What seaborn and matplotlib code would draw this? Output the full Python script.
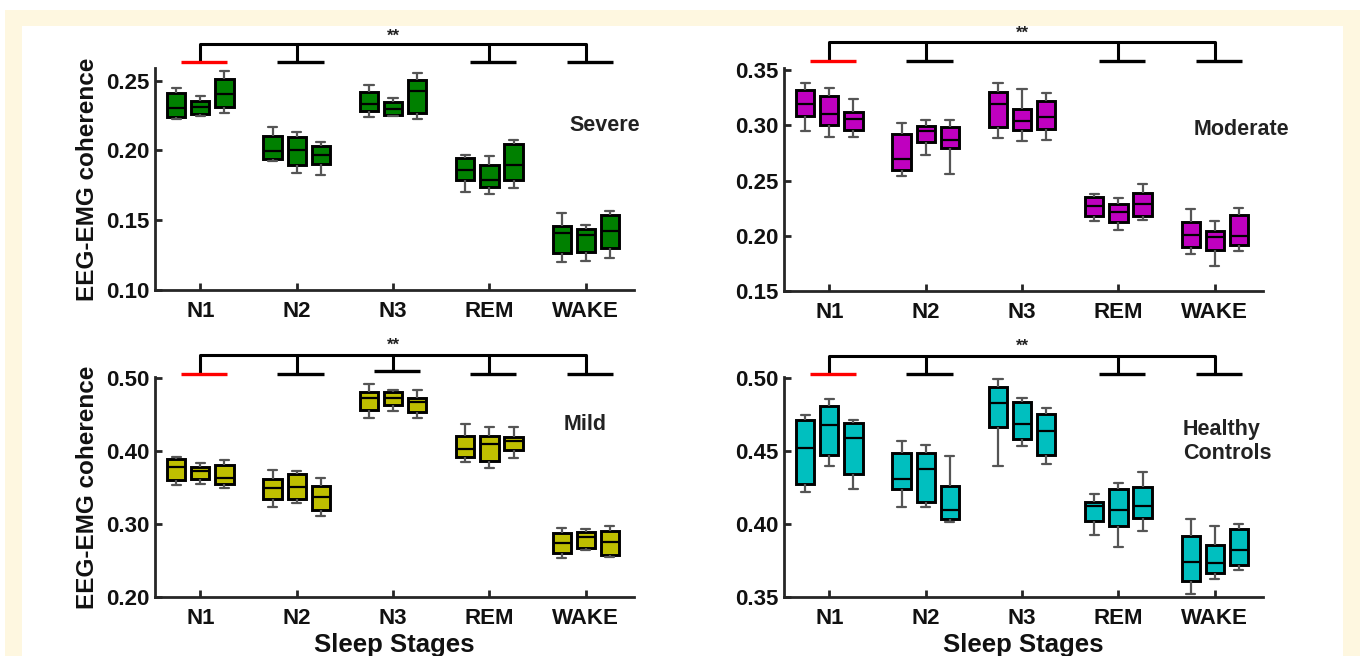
import numpy as np
import pandas as pd
import matplotlib
matplotlib.use("Agg")
import matplotlib.pyplot as plt
import matplotlib.transforms as mtransforms
from matplotlib.patches import Rectangle
import seaborn as sns

# ---------------- data ----------------
stages = ["N1", "N2", "N3", "REM", "WAKE"]
subgroups = ["a", "b", "c"]
# each row: [lower whisker, q1, median, q3, upper whisker]; 3 rows per stage
severe = [
    [0.2224, 0.2238, 0.2302, 0.2412, 0.2448],
    [0.2243, 0.2257, 0.2314, 0.2357, 0.2393],
    [0.2267, 0.2310, 0.2405, 0.2510, 0.2571],
    [0.1921, 0.1938, 0.1995, 0.2102, 0.2167],
    [0.1840, 0.1893, 0.2005, 0.2095, 0.2129],
    [0.1821, 0.1900, 0.1969, 0.2029, 0.2060],
    [0.2238, 0.2281, 0.2333, 0.2417, 0.2469],
    [0.2243, 0.2255, 0.2295, 0.2345, 0.2376],
    [0.2226, 0.2269, 0.2424, 0.2507, 0.2552],
    [0.1702, 0.1790, 0.1862, 0.1945, 0.1969],
    [0.1686, 0.1738, 0.1790, 0.1895, 0.1962],
    [0.1731, 0.1790, 0.1898, 0.2048, 0.2071],
    [0.1202, 0.1262, 0.1410, 0.1460, 0.1552],
    [0.1210, 0.1274, 0.1393, 0.1438, 0.1464],
    [0.1226, 0.1302, 0.1424, 0.1540, 0.1567],
]
moderate = [
    [0.2950, 0.3089, 0.3198, 0.3325, 0.3382],
    [0.2896, 0.3002, 0.3104, 0.3264, 0.3343],
    [0.2896, 0.2962, 0.3056, 0.3119, 0.3240],
    [0.2539, 0.2594, 0.2693, 0.2923, 0.3026],
    [0.2733, 0.2850, 0.2950, 0.2998, 0.3050],
    [0.2563, 0.2793, 0.2866, 0.2989, 0.3050],
    [0.2887, 0.2986, 0.3192, 0.3301, 0.3382],
    [0.2860, 0.2956, 0.3041, 0.3153, 0.3328],
    [0.2872, 0.2971, 0.3077, 0.3222, 0.3295],
    [0.2134, 0.2183, 0.2267, 0.2352, 0.2382],
    [0.2056, 0.2125, 0.2216, 0.2285, 0.2346],
    [0.2147, 0.2183, 0.2292, 0.2391, 0.2467],
    [0.1838, 0.1899, 0.2008, 0.2122, 0.2243],
    [0.1730, 0.1869, 0.1989, 0.2044, 0.2134],
    [0.1863, 0.1914, 0.1995, 0.2192, 0.2249],
]
mild = [
    [0.3532, 0.3609, 0.3782, 0.3891, 0.3918],
    [0.3545, 0.3614, 0.3727, 0.3786, 0.3845],
    [0.3500, 0.3545, 0.3636, 0.3809, 0.3877],
    [0.3241, 0.3341, 0.3500, 0.3623, 0.3745],
    [0.3286, 0.3341, 0.3514, 0.3682, 0.3723],
    [0.3118, 0.3195, 0.3373, 0.3523, 0.3636],
    [0.4464, 0.4564, 0.4727, 0.4818, 0.4923],
    [0.4559, 0.4636, 0.4727, 0.4809, 0.4836],
    [0.4464, 0.4545, 0.4673, 0.4727, 0.4845],
    [0.3850, 0.3918, 0.4036, 0.4214, 0.4373],
    [0.3773, 0.3864, 0.4100, 0.4205, 0.4332],
    [0.3909, 0.4023, 0.4136, 0.4191, 0.4332],
    [0.2532, 0.2605, 0.2745, 0.2873, 0.2945],
    [0.2645, 0.2673, 0.2827, 0.2895, 0.2936],
    [0.2545, 0.2582, 0.2759, 0.2909, 0.2968],
]
healthy = [
    [0.4220, 0.4273, 0.4523, 0.4714, 0.4750],
    [0.4400, 0.4477, 0.4680, 0.4814, 0.4857],
    [0.4241, 0.4345, 0.4591, 0.4693, 0.4714],
    [0.4118, 0.4241, 0.4311, 0.4486, 0.4568],
    [0.4120, 0.4155, 0.4380, 0.4489, 0.4541],
    [0.4014, 0.4034, 0.4100, 0.4259, 0.4466],
    [0.4402, 0.4670, 0.4834, 0.4941, 0.4993],
    [0.4539, 0.4586, 0.4684, 0.4836, 0.4868],
    [0.4411, 0.4473, 0.4641, 0.4755, 0.4795],
    [0.3927, 0.4023, 0.4125, 0.4152, 0.4205],
    [0.3841, 0.3989, 0.4098, 0.4239, 0.4280],
    [0.3955, 0.4039, 0.4125, 0.4255, 0.4355],
    [0.3523, 0.3609, 0.3743, 0.3916, 0.4034],
    [0.3625, 0.3666, 0.3736, 0.3857, 0.3986],
    [0.3682, 0.3720, 0.3825, 0.3966, 0.4000],
]
panel_names = ["Severe", "Moderate", "Mild", "Healthy\nControls"]
panel_colors = ["#008000", "#bf00bf", "#bfbf00", "#00bfbf"]
yticks_list = [
    [0.10, 0.15, 0.20, 0.25],
    [0.15, 0.20, 0.25, 0.30, 0.35],
    [0.20, 0.30, 0.40, 0.50],
    [0.35, 0.40, 0.45, 0.50],
]
ylims = [(0.10, 0.259), (0.15, 0.352), (0.20, 0.502), (0.35, 0.501)]
# stages that carry a drop in the significance bracket
bracket_stages = [
    ["N1", "N2", "REM", "WAKE"],
    ["N1", "N2", "REM", "WAKE"],
    ["N1", "N2", "N3", "REM", "WAKE"],
    ["N1", "N2", "REM", "WAKE"],
]
datasets = [severe, moderate, mild, healthy]

# ---------------- style ----------------
sns.set_style("ticks")
plt.rcParams["font.family"] = ["Liberation Sans", "DejaVu Sans"]
plt.rcParams["font.weight"] = "bold"
plt.rcParams["axes.labelweight"] = "bold"

W, H = 1360, 656
fig = plt.figure(figsize=(W / 100, H / 100), dpi=100, facecolor="white")
fig.patches.append(Rectangle((5 / W, 0), 1 - 5 / W, 1 - 10 / H, transform=fig.transFigure,
                             facecolor="#fef7e0", edgecolor="none", zorder=-10))
fig.patches.append(Rectangle((22 / W, 0), (1343 - 22) / W, 1 - 26 / H, transform=fig.transFigure,
                             facecolor="white", edgecolor="none", zorder=-9))

axes_px = [  # left, top, width, height in pixels
    (155, 68, 479, 222),
    (784, 68, 479, 223),
    (155, 377, 479, 220),
    (784, 377, 479, 220),
]
label_pos = [(0.939, 0.743, "center"), (0.954, 0.726, "center"),
             (0.898, 0.785, "center"), (0.833, 0.708, "left")]
bracket_y = [(1.108, 1.027, 1.144), (1.115, 1.030, 1.158),
             (1.099, 1.015, 1.144), (1.095, 1.012, 1.140)]

axcol = "#262626"
for k in range(4):
    l, t, w, h = axes_px[k]
    ax = fig.add_axes([l / W, 1 - (t + h) / H, w / W, h / H])
    ax.set_facecolor("none")
    rows = []
    for i, box in enumerate(datasets[k]):
        for v in box:
            rows.append({"stage": stages[i // 3], "sub": subgroups[i % 3], "value": v})
    df = pd.DataFrame(rows)
    sns.boxplot(data=df, x="stage", y="value", hue="sub", order=stages, hue_order=subgroups,
                palette=[panel_colors[k]] * 3, saturation=1, width=0.75, gap=0.24,
                whis=(0, 100), fliersize=0, linecolor="black", legend=False, ax=ax,
                boxprops=dict(edgecolor="black", linewidth=2.1),
                medianprops=dict(color="black", linewidth=1.6),
                whiskerprops=dict(color="#555555", linewidth=1.6),
                capprops=dict(color="#555555", linewidth=1.6))
    ax.set_xlim(-0.47, 4.5)
    ax.set_ylim(*ylims[k])
    ax.set_yticks(yticks_list[k])
    ax.set_yticklabels([f"{v:.2f}" for v in yticks_list[k]])
    for s in ["top", "right"]:
        ax.spines[s].set_visible(False)
    for s in ["left", "bottom"]:
        ax.spines[s].set_color(axcol)
        ax.spines[s].set_linewidth(2.0)
    ax.tick_params(direction="in", length=5, width=2, color=axcol, labelsize=16,
                   labelcolor="#111111")
    ax.tick_params(axis="x", pad=8)
    ax.tick_params(axis="y", pad=4)
    for lab in ax.get_xticklabels() + ax.get_yticklabels():
        lab.set_fontweight("bold")
    if k % 2 == 0:
        ax.set_ylabel("EEG-EMG coherence", fontsize=17.5, fontweight="bold", color="#111111")
        ax.yaxis.set_label_coords(-0.14, 0.5)
        ax.yaxis.label.set_va("center")
    else:
        ax.set_ylabel("")
    if k >= 2:
        ax.set_xlabel("Sleep Stages", fontsize=18.5, fontweight="bold", color="#111111")
        ax.xaxis.set_label_coords(0.5, -0.218)
        ax.xaxis.label.set_va("center")
    else:
        ax.set_xlabel("")

    px, py, ha = label_pos[k]
    ax.text(px, py, panel_names[k], transform=ax.transAxes, ha=ha, va="center",
            fontsize=15.5, fontweight="bold", color="#222222", linespacing=1.2)

    # significance bracket
    trans = mtransforms.blended_transform_factory(ax.transData, ax.transAxes)
    y_main, y_short, y_star = bracket_y[k]
    xs = [stages.index(s) for s in bracket_stages[k]]
    ax.plot([xs[0], xs[-1]], [y_main, y_main], color="black", lw=2.2, transform=trans,
            clip_on=False, solid_capstyle="butt")
    for j, x in enumerate(xs):
        ys = y_short + (0.011 if (k == 2 and stages[x] == "N3") else 0)
        ax.plot([x, x], [y_main, ys], color="black", lw=2.2, transform=trans, clip_on=False)
        ax.plot([x - 0.2, x + 0.28], [ys, ys], color="red" if j == 0 else "black",
                lw=2.4, transform=trans, clip_on=False, solid_capstyle="butt",
                zorder=3 if j == 0 else 2)
    ax.text(2, y_star, "**", transform=trans, ha="center", va="center",
            fontsize=12, fontweight="bold", color="#222222")

fig.savefig("out.png", dpi=100, facecolor=fig.get_facecolor())
